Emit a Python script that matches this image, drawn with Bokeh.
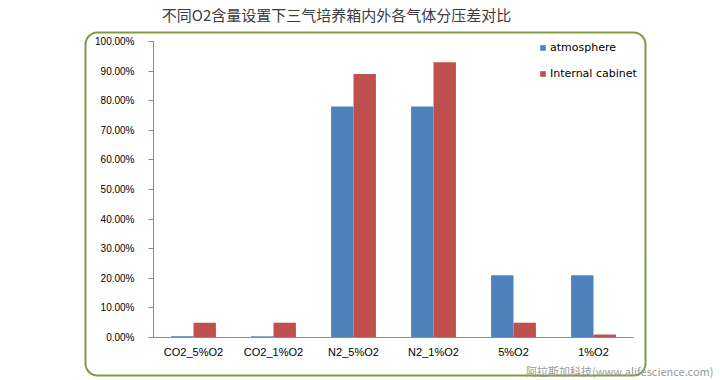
from bokeh.plotting import figure
from bokeh.models import (Range1d, NumeralTickFormatter, Legend, LegendItem, Label,
                          ColumnDataSource, FixedTicker, BoxAnnotation)
from bokeh.transform import dodge
from bokeh.embed import file_html
from bokeh.resources import INLINE

categories = ["CO2_5%O2", "CO2_1%O2", "N2_5%O2", "N2_1%O2", "5%O2", "1%O2"]
atmosphere = [0.004, 0.004, 0.78, 0.78, 0.21, 0.21]
internal_cabinet = [0.05, 0.05, 0.89, 0.93, 0.05, 0.01]
y_ticks = [0.0, 0.1, 0.2, 0.3, 0.4, 0.5, 0.6, 0.7, 0.8, 0.9, 1.0]
title_text = "不同O2含量设置下三气培养箱内外各气体分压差对比"
watermark_text = "阿拉斯加科技(www.alifescience.com)"

W, H = 720, 380
# plot area inside the canvas (pixels): left, right, top, bottom
PL, PR, PT, PB = 153, 633, 41, 337
n = len(categories)
px_x = (PR - PL) / n
px_y = (PB - PT) / 1.0

centers = [i + 0.5 for i in range(n)]
src = ColumnDataSource(dict(x=centers, a=atmosphere, b=internal_cabinet))

p = figure(width=W, height=H, output_backend="svg", toolbar_location=None,
           x_range=Range1d(-PL / px_x, n + (W - PR) / px_x),
           y_range=Range1d(-(H - PB) / px_y, 1.0 + PT / px_y),
           min_border=0, min_border_left=0, min_border_right=0,
           min_border_top=0, min_border_bottom=0)
p.outline_line_color = None
p.xgrid.grid_line_color = None
p.ygrid.grid_line_color = None

bw = 0.28
r1 = p.vbar(x=dodge("x", -bw / 2), top="a", width=bw, source=src,
            fill_color="#4F81BD", line_color=None)
r2 = p.vbar(x=dodge("x", bw / 2), top="b", width=bw, source=src,
            fill_color="#C0504D", line_color=None)

font = "Liberation Sans"
p.yaxis.fixed_location = 0
p.yaxis.bounds = (0, 1)
p.yaxis.ticker = FixedTicker(ticks=y_ticks)
p.yaxis.formatter = NumeralTickFormatter(format="0.00%")
p.yaxis.axis_line_color = "#8c8c8c"
p.yaxis.major_tick_line_color = "#8c8c8c"
p.yaxis.major_tick_out = 5
p.yaxis.major_tick_in = 0
p.yaxis.minor_tick_line_color = None
p.yaxis.major_label_standoff = 14
p.yaxis.major_label_text_font = font
p.yaxis.major_label_text_font_size = "10px"
p.yaxis.major_label_text_color = "#000000"

p.xaxis.fixed_location = 0
p.xaxis.bounds = (0, n)
p.xaxis.ticker = FixedTicker(ticks=centers)
p.xaxis.major_label_overrides = {c: lab for c, lab in zip(centers, categories)}
p.xaxis.axis_line_color = "#8c8c8c"
p.xaxis.major_tick_line_color = None
p.xaxis.minor_tick_line_color = None
p.xaxis.major_label_standoff = 2
p.xaxis.major_label_text_font = font
p.xaxis.major_label_text_font_size = "11px"
p.xaxis.major_label_text_color = "#000000"

legend = Legend(items=[LegendItem(label="atmosphere", renderers=[r1]),
                       LegendItem(label="Internal cabinet", renderers=[r2])],
                location=(539, 300), padding=0, margin=0, spacing=13,
                glyph_width=7, glyph_height=7, label_standoff=4,
                label_text_font="DejaVu Sans", label_text_font_size="11px",
                label_text_color="#000000",
                background_fill_alpha=0, border_line_color=None)
p.add_layout(legend, "center")

box = BoxAnnotation(left=85, right=645, top=H - 32, bottom=H - 375,
                    left_units="screen", right_units="screen",
                    top_units="screen", bottom_units="screen",
                    fill_alpha=0, line_color="#7F9B3C", line_alpha=1.0,
                    line_width=2, border_radius=12, level="underlay")
p.add_layout(box)

title = Label(x=336, y=H - 14, x_units="screen", y_units="screen",
              text=title_text, text_font="Noto Sans CJK SC", text_font_size="15px",
              text_color="#3c3c3c", text_align="center", text_baseline="middle")
p.add_layout(title)

wm = Label(x=713, y=H - 370, x_units="screen", y_units="screen",
           text=watermark_text, text_font="Noto Sans CJK SC", text_font_size="11px",
           text_color="#9a9a9a", text_align="right", text_baseline="middle")
p.add_layout(wm)

open("out.html", "w").write(file_html(p, INLINE))
